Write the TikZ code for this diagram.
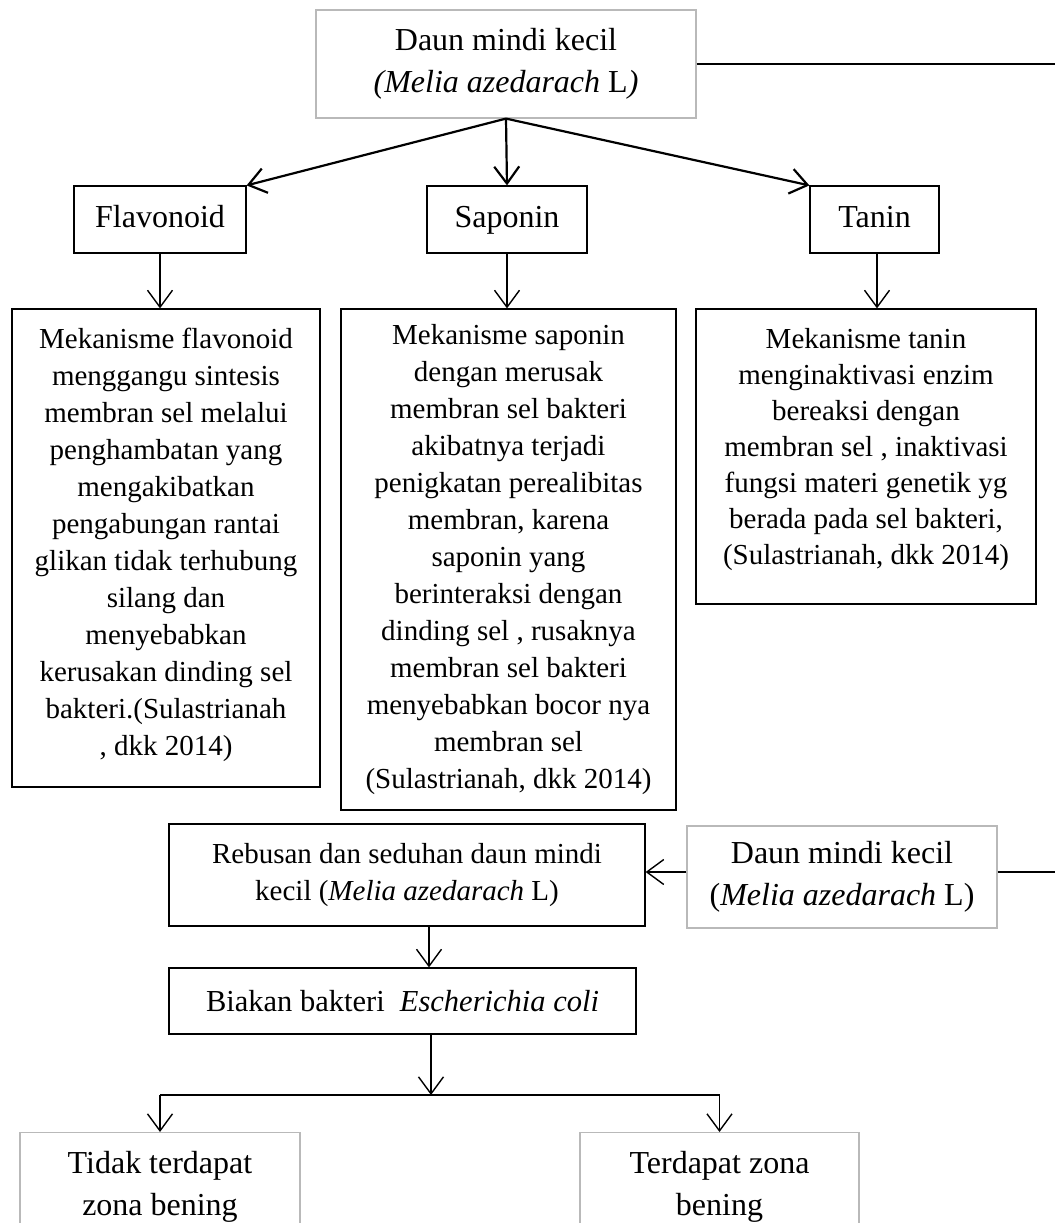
\documentclass[tikz,border=0pt]{standalone}
\usepackage{fontspec}
\setmainfont{Liberation Serif}
\usetikzlibrary{arrows.meta,positioning}
\newcommand{\bodytext}{\fontsize{29}{37}\selectfont}
\newcommand{\labeltext}{\fontsize{32}{42}\selectfont}
\newcommand{\melia}{\textit{Melia azedarach}~L}
\tikzset{
  box/.style={draw=black,line width=1.2pt,align=center,inner sep=0pt,font=\bodytext},
  greybox/.style={draw=gray!55,line width=1.2pt,align=center,inner sep=0pt,font=\labeltext},
  label/.style={box,font=\labeltext,text height=22pt,text depth=7pt},
  arr/.style={line width=1.4pt,-{Straight Barb[length=17pt,width=25pt,line width=1.4pt]}},
  heavy/.style={line width=2.2pt,-{Straight Barb[length=17pt,width=25pt,line width=2.2pt]}}
}

\begin{document}
\begin{tikzpicture}[x=1pt,y=-1pt]
  \clip (0,0) rectangle (1055,1223);

  % plant and its compounds
  \node[greybox,minimum width=380pt,minimum height=108pt] (daun) at (506,64)
    {Daun mindi kecil\\\textit{(Melia azedarach} L\textit{)}};
  \node[label,minimum width=172pt,minimum height=67pt] (flav) at (160,219.5) {Flavonoid};
  \node[label,minimum width=160pt,minimum height=67pt] (sap) at (507,219.5) {Saponin};
  \node[label,minimum width=129pt,minimum height=67pt] (tan) at (874.5,219.5) {Tanin};
  \coordinate (edgeA) at (1055,64);
  \draw[line width=1.2pt] (daun.east) -- (edgeA);
  \draw[heavy] (daun.south) -- (flav.north east);
  \draw[heavy] (daun.south) -- (sap.north);
  \draw[heavy] (daun.south) -- (tan.north west);

  % mechanisms
  \node[box,minimum width=308pt,minimum height=478pt] (flavtxt) at (166,548)
    {Mekanisme flavonoid\\menggangu sintesis\\membran sel melalui\\penghambatan yang\\
     mengakibatkan\\pengabungan rantai\\glikan tidak terhubung\\silang dan\\menyebabkan\\
     kerusakan dinding sel\\bakteri.(Sulastrianah\\, dkk 2014)\\[-25pt]};
  \node[box,minimum width=335pt,minimum height=501pt] (saptxt) at (508.5,559.5)
    {Mekanisme saponin\\dengan merusak\\membran sel bakteri\\akibatnya terjadi\\
     penigkatan perealibitas\\membran, karena\\saponin yang\\berinteraksi dengan\\
     dinding sel , rusaknya\\membran sel bakteri\\menyebabkan bocor nya\\membran sel\\
     (Sulastrianah, dkk 2014)};
  \node[box,minimum width=340pt,minimum height=295pt,font=\fontsize{29}{36}\selectfont] (tantxt) at (866,456.5)
    {Mekanisme tanin\\menginaktivasi enzim\\bereaksi dengan\\membran sel , inaktivasi\\
     fungsi materi genetik yg\\berada pada sel bakteri,\\(Sulastrianah, dkk 2014)\\[-16pt]};
  \draw[arr] (flav.south) -- (flav.south |- flavtxt.north);
  \draw[arr] (sap.south) -- (sap.south |- saptxt.north);
  \draw[arr] ([xshift=2.5pt]tan.south) -- ([xshift=2.5pt]tan.south |- tantxt.north);

  % test
  \node[box,minimum width=476pt,minimum height=102pt] (reb) at (407,875)
    {Rebusan dan seduhan daun mindi\\kecil (\melia)};
  \node[greybox,minimum width=310pt,minimum height=102pt] (daun2) at (842,877)
    {Daun mindi kecil\\(\melia)};
  \node[box,minimum width=467pt,minimum height=66pt,font=\fontsize{30.5}{36}\selectfont] (bia) at (402.5,1001)
    {Biakan bakteri\ \ \textit{Escherichia coli}};
  \coordinate (edgeB) at (1055,872);
  \draw[line width=1.2pt] (daun2.east |- edgeB) -- (edgeB);
  \draw[arr] (daun2.west |- edgeB) -- (reb.east |- edgeB);
  \draw[arr] ([xshift=22pt]reb.south) -- ([xshift=22pt]reb.south |- bia.north);

  % result
  \node[greybox,anchor=north,minimum width=280pt,inner ysep=19pt] (tidak) at (160,1132)
    {Tidak terdapat\\zona bening};
  \node[greybox,anchor=north,minimum width=279pt,inner ysep=19pt] (terd) at (719.5,1132)
    {Terdapat zona\\bening};
  \coordinate (jn) at (431,1095);
  \coordinate (jl) at (160,1095);
  \coordinate (jr) at (719.5,1095);
  \draw[arr] (jn |- bia.south) -- (jn);
  \draw[line width=1.4pt] (jl) -- (jr);
  \draw[arr] (jl) -- (jl |- tidak.north);
  \draw[arr] (jr) -- (jr |- terd.north);
\end{tikzpicture}
\end{document}
